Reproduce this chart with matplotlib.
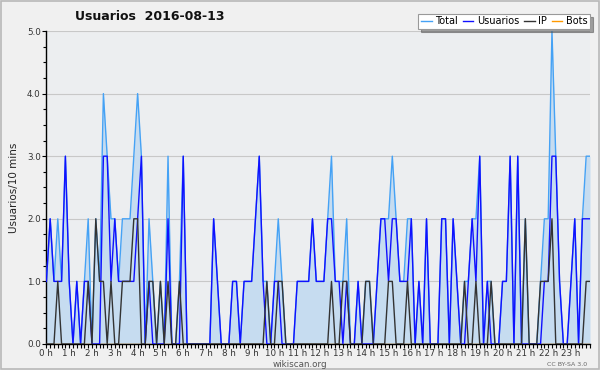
import matplotlib
matplotlib.use("Agg")
import matplotlib.pyplot as plt
from matplotlib.patches import Rectangle
from matplotlib.ticker import MultipleLocator, FixedLocator

# 10-minute slots over the day (0 .. 143)
total = [1,2,1,2,1,3,1,0,1,0,
         1,2,0,2,1,4,3,2,2,1,
         2,2,2,3,4,3,0,2,1,0,
         1,0,3,0,0,1,3,0,0,0,
         0,0,0,0,2,1,0,0,0,1,
         1,0,1,1,1,2,3,1,1,0,
         1,2,1,0,0,0,1,1,1,1,
         2,1,1,1,2,3,1,1,1,2,
         0,0,1,0,1,1,0,1,2,2,
         2,3,2,1,1,2,2,0,1,0,
         2,0,0,0,2,2,0,2,1,0,
         1,1,2,2,3,0,1,1,0,0,
         1,1,3,0,3,0,2,0,0,0,
         1,2,2,5,3,1,0,0,1,2,
         0,2,3,3]
usuarios = [1,2,1,1,1,3,1,0,1,0,
            1,1,0,0,0,3,3,1,2,1,
            1,1,1,1,2,3,0,1,0,0,
            0,0,2,0,0,0,3,0,0,0,
            0,0,0,0,2,1,0,0,0,1,
            1,0,1,1,1,2,3,1,0,0,
            1,1,0,0,0,0,1,1,1,1,
            2,1,1,1,2,2,1,1,0,1,
            0,0,1,0,0,0,0,1,2,2,
            1,2,2,1,1,1,2,0,1,0,
            2,0,0,0,2,2,0,2,1,0,
            0,1,2,1,3,0,1,0,0,0,
            1,1,3,0,3,0,0,0,0,0,
            0,1,1,3,3,1,0,0,1,2,
            0,2,2,2]
ip = [0,0,0,1,0,0,0,0,0,0,
      0,1,0,2,1,1,0,1,0,0,
      1,1,1,2,2,0,0,1,1,0,
      1,0,1,0,0,1,0,0,0,0,
      0,0,0,0,0,0,0,0,0,0,
      0,0,0,0,0,0,0,0,1,0,
      0,1,1,0,0,0,0,0,0,0,
      0,0,0,0,0,1,0,0,1,1,
      0,0,0,0,1,1,0,0,0,0,
      1,1,0,0,0,1,0,0,0,0,
      0,0,0,0,0,0,0,0,0,0,
      1,0,0,1,0,0,0,1,0,0,
      0,0,0,0,0,0,2,0,0,0,
      1,1,1,2,0,0,0,0,0,0,
      0,0,1,1]
bots = [0] * 144
slots = list(range(144))
hour_labels = [f"{h} h" for h in range(24)]
y_labels = ["0.0", "1.0", "2.0", "3.0", "4.0", "5.0"]

fig = plt.figure(figsize=(6.0, 3.7), dpi=100, facecolor="#f0f0f0")
fig.add_artist(Rectangle((0.0015, 0.002), 0.997, 0.996, transform=fig.transFigure,
                         fill=False, edgecolor="#b8b8b8", linewidth=1.2))
ax = fig.add_axes([0.0773, 0.0703, 0.9060, 0.8459])
ax.set_facecolor("#eceef0")

ax.fill_between(slots, total, 0, color="#c6dcf0", linewidth=0, zorder=1)
ax.plot(slots, total, color="#45a2f5", lw=1.0, label="Total", zorder=3)
ax.plot(slots, usuarios, color="#1010ff", lw=1.0, label="Usuarios", zorder=4)
ax.plot(slots, ip, color="#333333", lw=1.0, label="IP", zorder=5)
ax.plot(slots, bots, color="#ff9900", lw=1.0, label="Bots", zorder=2)

ax.set_xlim(0, 143)
ax.set_ylim(0, 5)
ax.yaxis.set_major_locator(FixedLocator([0, 1, 2, 3, 4, 5]))
ax.set_yticklabels(y_labels)
ax.yaxis.set_minor_locator(MultipleLocator(0.25))
ax.xaxis.set_major_locator(FixedLocator([h * 6 for h in range(24)]))
ax.set_xticklabels(hour_labels)
ax.xaxis.set_minor_locator(MultipleLocator(1))
ax.grid(axis="y", which="major", color="#c8c8c8", lw=0.8, zorder=0)
ax.set_axisbelow(True)

for s in ("top", "right"):
    ax.spines[s].set_visible(False)
for s in ("left", "bottom"):
    ax.spines[s].set_color("black")
    ax.spines[s].set_linewidth(1.0)
ax.tick_params(axis="both", which="major", labelsize=6.3, colors="black",
               labelcolor="#333333", length=3, width=0.8, pad=1)
ax.tick_params(axis="x", which="major", pad=0.5)
ax.tick_params(axis="both", which="minor", length=3, width=0.8)
ax.tick_params(axis="y", which="minor", length=2)

ax.set_ylabel("Usuarios/10 mins", fontsize=7.5, color="#222222", labelpad=6)

fig.text(0.25, 0.955, "Usuarios  2016-08-13", fontsize=9, fontweight="bold",
         ha="center", va="center", color="#111111")
fig.text(0.5, 0.016, "wikiscan.org", fontsize=6.3, ha="center", va="center", color="#555555")
fig.text(0.978, 0.016, "CC BY-SA 3.0", fontsize=4.5, ha="right", va="center", color="#666666")

leg = fig.legend(loc="upper right", bbox_to_anchor=(0.983, 0.962), ncol=4,
                 fontsize=7, frameon=True, fancybox=False, shadow=True,
                 handlelength=1.1, handletextpad=0.35, columnspacing=0.5,
                 borderpad=0.25, borderaxespad=0.0)
leg.get_frame().set_edgecolor("#999999")
leg.get_frame().set_facecolor("white")
leg.get_frame().set_linewidth(0.8)

fig.savefig("out.png", dpi=100, facecolor=fig.get_facecolor())
